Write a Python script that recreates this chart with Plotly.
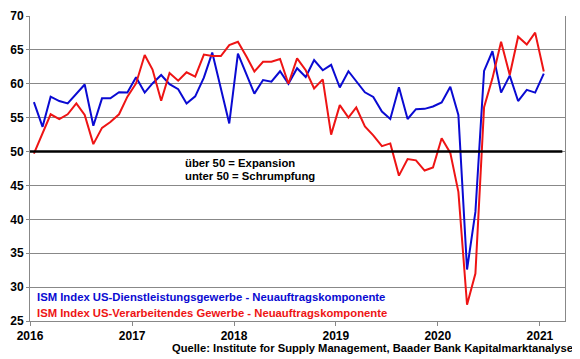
import pandas as pd
import plotly.graph_objects as go

# Monthly data, Jan 2016 - Jan 2021
dienstleistung = [57.3, 53.65, 58.1, 57.45, 57.1, 58.6, 59.9, 53.8, 57.85, 57.85, 58.75, 58.7,
                  60.95, 58.7, 60.05, 61.3, 59.95, 59.2, 57.1, 58.15, 60.9, 64.6, 59.3, 54.15,
                  64.45, 61.2, 58.55, 60.55, 60.3, 61.85, 60.0, 62.3, 61.0, 63.5, 62.0, 62.8,
                  59.45, 61.85, 60.35, 58.75, 58.05, 55.9, 54.8, 59.5, 54.8, 56.25, 56.3, 56.65,
                  57.25, 59.55, 55.4, 32.6, 41.1, 61.9, 64.8, 58.7, 61.2, 57.45, 59.1, 58.7,
                  61.5]
verarbeitend = [49.7, 52.6, 55.5, 54.8, 55.5, 57.1, 55.4, 51.1, 53.5, 54.35, 55.5, 58.1,
                60.05, 64.25, 62.1, 57.5, 61.6, 60.45, 61.7, 61.05, 64.3, 64.1, 64.1, 65.7,
                66.2, 64.0, 61.8, 63.25, 63.25, 63.65, 60.0, 63.75, 62.0, 59.3, 60.65, 52.5,
                56.85, 55.0, 56.5, 53.7, 52.4, 50.8, 51.2, 46.45, 48.9, 48.7, 47.2, 47.65,
                51.95, 49.8, 44.05, 27.4, 32.0, 56.55, 60.8, 66.2, 61.3, 66.95, 65.8, 67.55,
                61.8]
monate = pd.date_range("2016-01-01", periods=len(dienstleistung), freq="MS") + pd.Timedelta(days=14)

jahre = [2016, 2017, 2018, 2019, 2020, 2021]
y_ticks = [25, 30, 35, 40, 45, 50, 55, 60, 65, 70]

BLUE = "#0A0AD2"
RED = "#EE1414"
FONT = "Liberation Sans, Arial, sans-serif"

# page offset from default body margin
OFF = 8
PL, PR, PT, PB = 30, 565, 16, 320.7  # plot area in page pixels

fig = go.Figure()
fig.add_trace(go.Scatter(x=monate, y=dienstleistung, mode="lines",
                         line=dict(color=BLUE, width=2), showlegend=False))
fig.add_trace(go.Scatter(x=monate, y=verarbeitend, mode="lines",
                         line=dict(color=RED, width=2), showlegend=False))

fig.add_shape(type="line", xref="paper", yref="y", x0=0, x1=0.995, y0=50, y1=50,
              line=dict(color="black", width=2.5))

fig.update_xaxes(
    type="date", range=["2016-01-01", "2021-04-01"], automargin=False,
    tickvals=[f"{j}-01-01" for j in jahre],
    ticktext=[f"<b>{j}</b>" for j in jahre],
    ticks="outside", ticklen=4, tickcolor="#888888",
    showline=True, linecolor="#888888", linewidth=1,
    showgrid=False, zeroline=False,
    tickfont=dict(family=FONT, size=12, color="black"),
)
fig.update_yaxes(
    range=[25, 70], tickvals=y_ticks, ticktext=[f"<b>{v}</b>" for v in y_ticks],
    automargin=False,
    ticks="outside", ticklen=3, tickcolor="#888888",
    showline=True, linecolor="#888888", linewidth=1, mirror=True,
    showgrid=True, gridcolor="#888888", gridwidth=1, zeroline=False,
    tickfont=dict(family=FONT, size=12, color="black"),
)

annots = [
    dict(text="<b>über 50 = Expansion</b>", x=183, y=163, color="black"),
    dict(text="<b>unter 50 = Schrumpfung</b>", x=183, y=176, color="black"),
    dict(text="<b>ISM Index US-Dienstleistungsgewerbe - Neuauftragskomponente</b>", x=35, y=297, color=BLUE),
    dict(text="<b>ISM Index US-Verarbeitendes Gewerbe - Neuauftragskomponente</b>", x=35, y=313, color=RED),
]
for a in annots:
    fig.add_annotation(text=a["text"], xref="paper", yref="paper",
                       x=(a["x"] - PL) / (PR - PL), y=(PB - a["y"]) / (PB - PT),
                       xanchor="left", yanchor="middle", showarrow=False,
                       font=dict(family=FONT, size=11.3, color=a["color"]))
fig.add_annotation(text="<b>Quelle: Institute for Supply Management, Baader Bank Kapitalmarktanalyse</b>",
                   xref="paper", yref="paper", x=(575 - PL) / (PR - PL), y=(PB - 348) / (PB - PT),
                   xanchor="right", yanchor="middle", showarrow=False,
                   font=dict(family=FONT, size=11.2, color="black"))

W, H = 580 - OFF, 359 - OFF
fig.update_layout(
    width=W, height=H,
    margin=dict(l=PL - OFF, r=580 - PR, t=PT - OFF, b=359 - PB, autoexpand=False),
    paper_bgcolor="white", plot_bgcolor="white",
)
fig.write_html("out.html")
